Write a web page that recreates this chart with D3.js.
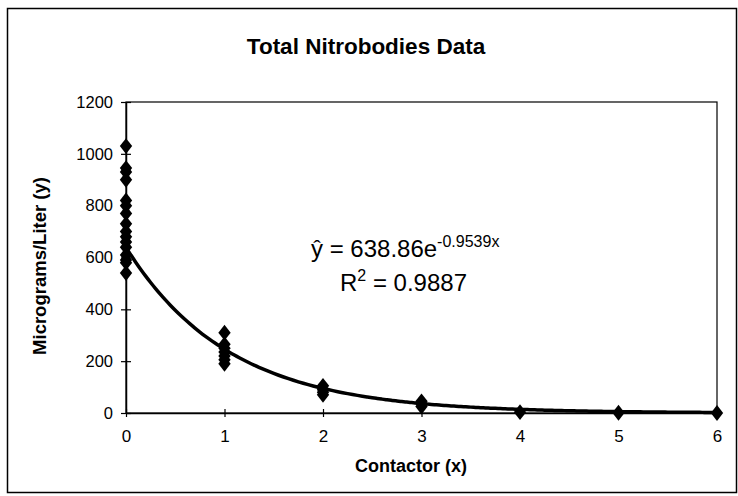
<!DOCTYPE html>
<html>
<head>
<meta charset="utf-8">
<script src="https://cdn.jsdelivr.net/npm/d3@7"></script>
<style>
  html, body { margin: 0; padding: 0; background: #fff; }
  svg { display: block; font-family: "Liberation Sans", Arial, Helvetica, sans-serif; }
</style>
</head>
<body>
<svg id="chart" width="738" height="496"></svg>
<script>
// ---- data ----
const contactorX = [0, 0, 0, 0, 0, 0, 0, 0, 0, 0, 0, 0, 0, 0, 0, 0,
                    1, 1, 1, 1, 1, 1, 1,
                    2, 2, 2, 2,
                    3, 3, 3,
                    4, 5, 6];
const microgramsY = [1030, 945, 930, 900, 820, 800, 770, 730, 700, 680, 660, 640, 610, 590, 580, 540,
                     310, 265, 250, 235, 220, 205, 190,
                     105, 90, 80, 70,
                     45, 35, 25,
                     3, 1, 0];
const fitA = 638.86;
const fitB = -0.9539;
const rSquared = 0.9887;
const xTicks = [0, 1, 2, 3, 4, 5, 6];
const yTicks = [0, 200, 400, 600, 800, 1000, 1200];
const titleText = "Total Nitrobodies Data";
const xTitle = "Contactor (x)";
const yTitle = "Micrograms/Liter (y)";

// ---- layout ----
const svg = d3.select("#chart");
const plot = { left: 126, right: 717, top: 102, bottom: 413 };

const x = d3.scaleLinear().domain([0, 6]).range([plot.left, plot.right]);
const y = d3.scaleLinear().domain([0, 1200]).range([plot.bottom, plot.top]);

// outer frame
svg.append("rect")
  .attr("x", 7.5).attr("y", 8.5).attr("width", 729).attr("height", 484)
  .attr("fill", "none").attr("stroke", "#000").attr("stroke-width", 1.5);

// plot frame
svg.append("rect")
  .attr("x", plot.left).attr("y", plot.top)
  .attr("width", plot.right - plot.left).attr("height", plot.bottom - plot.top)
  .attr("fill", "none").attr("stroke", "#000").attr("stroke-width", 1.2);

// axes
const yAxis = d3.axisLeft(y).tickValues(yTicks).tickFormat(d3.format("d")).tickSize(0).tickPadding(13);
const gy = svg.append("g").attr("transform", `translate(${plot.left},0)`).call(yAxis);
gy.select(".domain").attr("stroke", "#000").attr("stroke-width", 1.5);
gy.selectAll(".tick text").attr("font-size", 16.5).attr("fill", "#000")
  .attr("font-family", "Liberation Sans, Arial, sans-serif");
gy.selectAll(".tick").append("line")
  .attr("x1", -5).attr("x2", 5).attr("stroke", "#000").attr("stroke-width", 1.2);

const xAxis = d3.axisBottom(x).tickValues(xTicks).tickFormat(d3.format("d")).tickSize(0).tickPadding(17);
const gx = svg.append("g").attr("transform", `translate(0,${plot.bottom})`).call(xAxis);
gx.select(".domain").attr("stroke", "#000").attr("stroke-width", 1.5);
gx.selectAll(".tick text").attr("font-size", 17).attr("fill", "#000")
  .attr("font-family", "Liberation Sans, Arial, sans-serif");
gx.selectAll(".tick").append("line")
  .attr("y1", -4).attr("y2", 4).attr("stroke", "#000").attr("stroke-width", 1.2);

// trendline from the fitted equation
const curveXs = d3.range(0, 6.0001, 0.05);
const line = d3.line().x(d => x(d)).y(d => y(fitA * Math.exp(fitB * d))).curve(d3.curveBasis);
svg.append("path").datum(curveXs)
  .attr("d", line).attr("fill", "none").attr("stroke", "#000").attr("stroke-width", 3.5);

// diamond markers
const diamond = d3.symbol().type(d3.symbolDiamond2).size(120);
svg.append("g").selectAll("path")
  .data(contactorX.map((cx, i) => [cx, microgramsY[i]]))
  .join("path")
  .attr("transform", d => `translate(${x(d[0])},${y(d[1])}) scale(0.9,1.15)`)
  .attr("d", diamond).attr("fill", "#000");

// title
svg.append("text").attr("x", 366).attr("y", 54).attr("text-anchor", "middle")
  .attr("font-size", 22.5).attr("font-weight", "bold").text(titleText);

// axis titles
svg.append("text").attr("x", 411).attr("y", 472).attr("text-anchor", "middle")
  .attr("font-size", 18).attr("font-weight", "bold").text(xTitle);
svg.append("text").attr("transform", "translate(46,266) rotate(-90)").attr("text-anchor", "middle")
  .attr("font-size", 18.5).attr("font-weight", "bold").text(yTitle);

// equation
const eq = svg.append("text").attr("x", 311).attr("y", 257).attr("font-size", 24);
eq.append("tspan").text("y\u0302 = " + fitA.toFixed(2) + "e");
eq.append("tspan").attr("dy", -10).attr("font-size", 16).text(fitB.toFixed(4) + "x");
const r2 = svg.append("text").attr("x", 340).attr("y", 291).attr("font-size", 24);
r2.append("tspan").text("R");
r2.append("tspan").attr("dy", -10).attr("font-size", 16).text("2");
r2.append("tspan").attr("dy", 10).text(" = " + rSquared.toFixed(4));
</script>
</body>
</html>
